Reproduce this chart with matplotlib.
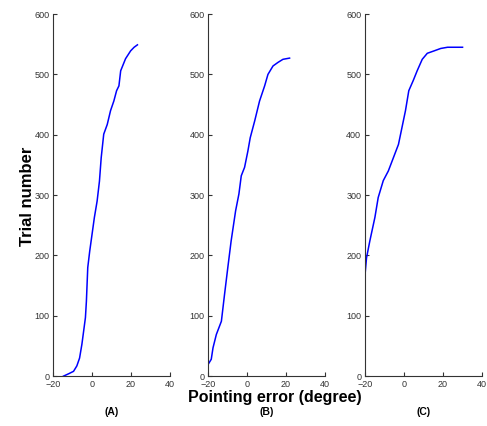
import matplotlib
matplotlib.use("Agg")
import matplotlib.pyplot as plt

plt.rcParams['font.family'] = ['Liberation Sans', 'DejaVu Sans']

# curve (A)
err_a = [-14.7, -12, -9.5, -7.8, -6.4, -5.2, -4.3, -3.4, -2.9, -2.2, -1.2, 0, 1.2,
         2.6, 3.8, 4.7, 6, 7.8, 9.5, 11.2, 12.6, 13.8, 14.7, 17.2, 19.8, 21.6, 23.3]
trial_a = [0, 4, 8, 17, 30, 53, 75, 97, 124, 180, 207, 235, 263,
           290, 323, 362, 401, 417, 440, 456, 473, 481, 506, 526, 539, 545, 549]

# curve (B)
err_b = [-20, -18.3, -17.4, -15.7, -13.1, -11.5, -9.8, -8.1, -5.8, -4.1, -2.9, -1.2,
         0.5, 1.7, 4, 6.5, 9.1, 10.8, 13.4, 16, 18.5, 21.9]
trial_b = [19, 28, 47, 69, 91, 135, 180, 224, 274, 302, 332, 346,
           373, 395, 423, 456, 481, 500, 514, 520, 525, 527]

# curve (C)
err_c = [-20, -19.1, -17.4, -14.8, -13.1, -10.5, -7.9, -5.3, -2.7, -0.9, 0.9, 2.6,
         4.9, 6.9, 9.5, 12.1, 15.6, 19, 22.5, 30.2]
trial_c = [163, 196, 224, 263, 296, 324, 340, 362, 384, 412, 440, 473,
           490, 506, 525, 535, 539, 543, 545, 545]

panels = ["(A)", "(B)", "(C)"]
xticks = [-20, 0, 20, 40]
yticks = [0, 100, 200, 300, 400, 500, 600]

fig = plt.figure(figsize=(4.87, 4.26), dpi=100)
lefts = [0.109, 0.427, 0.749]
data = [(err_a, trial_a), (err_b, trial_b), (err_c, trial_c)]

for left, (x, y), name in zip(lefts, data, panels):
    ax = fig.add_axes([left, 0.117, 0.240, 0.850])
    ax.plot(x, y, color='#0000ff', lw=1.1)
    ax.set_xlim(-20, 40)
    ax.set_ylim(0, 600)
    ax.set_xticks(xticks)
    ax.set_yticks(yticks)
    ax.spines['top'].set_visible(False)
    ax.spines['right'].set_visible(False)
    for s in ['left', 'bottom']:
        ax.spines[s].set_color('#333333')
        ax.spines[s].set_linewidth(0.8)
    ax.tick_params(direction='in', length=3, width=0.8, labelsize=6.5,
                   colors='#333333')
    ax.tick_params(axis='x', pad=3)
    ax.tick_params(axis='y', pad=2.5)
    ax.text(0.5, -0.1, name, transform=ax.transAxes, ha='center', va='center',
            fontsize=7.5, fontweight='bold')

fig.text(0.057, 0.54, "Trial number", rotation=90, ha='center', va='center',
         fontsize=12, fontweight='bold')
fig.text(0.565, 0.068, "Pointing error (degree)", ha='center', va='center',
         fontsize=11.5, fontweight='bold')

fig.savefig("out.png", dpi=100)
